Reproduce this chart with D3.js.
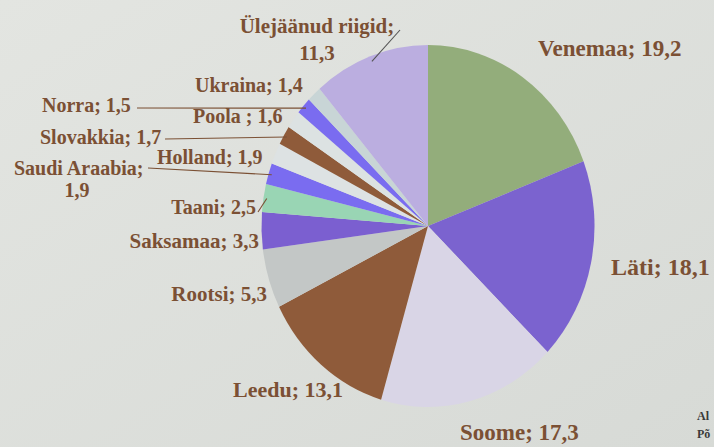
<!DOCTYPE html>
<html>
<head>
<meta charset="utf-8">
<script src="https://cdn.jsdelivr.net/npm/d3@7"></script>
<style>
  body { margin: 0; background: #dfe1dd; }
  svg { display: block; }
  .lbl { font-family: "Liberation Serif", "Times New Roman", serif; font-weight: bold; fill: #7b5034; }
</style>
</head>
<body>
<svg id="canvas" width="714" height="447"></svg>
<script>
// export shares by country, %
const countries = ['Venemaa', 'Läti', 'Soome', 'Leedu', 'Rootsi', 'Saksamaa', 'Taani',
    'Saudi Araabia', 'Holland', 'Slovakkia', 'Poola ', 'Norra', 'Ukraina', 'Ülejäänud riigid']
const shares = [19.2, 18.1, 17.3, 13.1, 5.3, 3.3, 2.5, 1.9, 1.9, 1.7, 1.6, 1.5, 1.4, 11.3]
const sliceColors = ['#93ad7b', '#7b63cf', '#d9d5e6', '#8f5b3a', '#c3c7c6', '#7b5fd0', '#99d5b4',
    '#7a6cf0', '#dde2e3', '#8f5b3a', '#dce2e2', '#7a6cf0', '#c8d5d6', '#bbaee0']

let canvas = d3.select('#canvas')
const W = 714, H = 447
const cx = 428, cy = 226, R = 181, xs = 0.92

// photo-like background
let defs = canvas.append('defs')
let grad = defs.append('linearGradient').attr('id', 'bg')
    .attr('x1', 0).attr('y1', 0).attr('x2', 1).attr('y2', 1)
grad.append('stop').attr('offset', '0%').attr('stop-color', '#e3e5e1')
grad.append('stop').attr('offset', '100%').attr('stop-color', '#d7dad6')
canvas.append('rect').attr('width', W).attr('height', H).attr('fill', 'url(#bg)')

let data = countries.map((c, i) => ({ name: c, value: shares[i], color: sliceColors[i] }))

let pie = d3.pie().value(d => d.value).sort(null)
let arcs = pie(data)
let arc = d3.arc().innerRadius(0).outerRadius(R)

let pieG = canvas.append('g')
    .attr('transform', 'translate(' + cx + ',' + cy + ') scale(' + xs + ',1)')

pieG.selectAll('path')
    .data(arcs)
    .enter()
    .append('path')
    .attr('d', arc)
    .attr('fill', d => d.data.color)

// point on the outer edge of a slice, in page coords
let edgePoint = (a, k) => {
    let m = (a.startAngle + a.endAngle) / 2
    return [cx + Math.sin(m) * R * k * xs, cy - Math.cos(m) * R * k]
}

// label layout: [x, y, anchor, font size, second line, leader line start]
const labelLayout = {
    'Venemaa': [538, 56, 'start', 23],
    'Läti': [611, 275, 'start', 24],
    'Soome': [460, 440, 'start', 23],
    'Leedu': [233, 397, 'start', 22],
    'Rootsi': [267, 301, 'end', 21],
    'Saksamaa': [259, 248, 'end', 21],
    'Taani': [256, 214, 'end', 20, null, [258, 212]],
    'Saudi Araabia': [14, 175, 'start', 20, '1,9', [148, 168]],
    'Holland': [157, 164, 'start', 20],
    'Slovakkia': [40, 144, 'start', 20, null, [165, 139]],
    'Poola ': [193, 123, 'start', 20],
    'Norra': [42, 112, 'start', 20, null, [137, 108]],
    'Ukraina': [195, 92, 'start', 20],
    'Ülejäänud riigid': [317, 33, 'middle', 21, '11,3', [400, 30]]
}

let fmt = v => String(v).replace('.', ',')

// leader lines
arcs.forEach(a => {
    let L = labelLayout[a.data.name]
    if (!L[5]) return
    let p = edgePoint(a, a.data.name == 'Ülejäänud riigid' ? 0.97 : 0.98)
    canvas.append('line')
        .attr('x1', L[5][0]).attr('y1', L[5][1])
        .attr('x2', p[0]).attr('y2', p[1])
        .attr('stroke', a.data.name == 'Ülejäänud riigid' ? '#555' : '#7b5034')
        .attr('stroke-width', 1.1)
})

arcs.forEach(a => {
    let L = labelLayout[a.data.name]
    let t = canvas.append('text')
        .attr('class', 'lbl')
        .attr('x', L[0]).attr('y', L[1])
        .attr('text-anchor', L[2])
        .style('font-size', L[3] + 'px')
    if (L[4]) {
        t.text(a.data.name + ';')
        canvas.append('text')
            .attr('class', 'lbl')
            .attr('x', a.data.name == 'Saudi Araabia' ? 77 : L[0])
            .attr('y', L[1] + (a.data.name == 'Saudi Araabia' ? 22 : 27))
            .attr('text-anchor', 'middle')
            .style('font-size', L[3] + 'px')
            .text(fmt(a.data.value))
    } else {
        t.text(a.data.name + '; ' + fmt(a.data.value))
    }
})

// source note, cut by the slide edge in the photo
canvas.append('text').attr('x', 697).attr('y', 420)
    .style('font', 'bold 12px "Liberation Serif", serif').attr('fill', '#3a3a3a').text('Al')
canvas.append('text').attr('x', 697).attr('y', 438)
    .style('font', 'bold 12px "Liberation Serif", serif').attr('fill', '#3a3a3a').text('Põ')
</script>
</body>
</html>
